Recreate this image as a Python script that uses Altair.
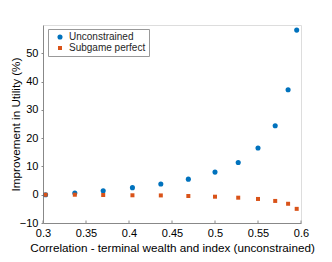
import altair as alt
import pandas as pd

# Data
corr = [0.303, 0.337, 0.370, 0.404, 0.437, 0.469, 0.500, 0.527, 0.550, 0.570, 0.585, 0.595]
unconstrained = [0.0, 0.6, 1.4, 2.5, 3.8, 5.5, 8.0, 11.4, 16.5, 24.4, 37.1, 58.2]
subgame = [0.0, 0.0, -0.1, -0.2, -0.25, -0.45, -0.7, -1.05, -1.5, -2.2, -3.2, -5.0]
series_names = ["Unconstrained", "Subgame perfect"]
series_colors = ["#0072BD", "#D95319"]
x_ticks = [0.3, 0.35, 0.4, 0.45, 0.5, 0.55, 0.6]
y_ticks = [-10, 0, 10, 20, 30, 40, 50]

rows = []
for i, s in enumerate(series_names):
    vals = unconstrained if i == 0 else subgame
    for xv, yv in zip(corr, vals):
        rows.append({"x": xv, "y": yv, "series": s, "order": i})
df = pd.DataFrame(rows)
ticks_df = pd.DataFrame({"x": x_ticks})

FONT = "Liberation Sans"
TXT = "#262626"
AX = "#8a8a8a"
W, H = 258, 198

xscale = alt.Scale(domain=[0.3, 0.6], nice=False, zero=False)
yscale = alt.Scale(domain=[-10, 60], nice=False, zero=False)

xaxis = alt.Axis(values=x_ticks, format="~g", tickSize=0, labelPadding=4,
                 grid=False, titleFontWeight="normal", labelFlush=False,
                 titleFontSize=11.7, labelFontSize=11,
                 titleY=28.5, titleBaseline="alphabetic")
yaxis = alt.Axis(values=y_ticks, tickSize=2, labelPadding=3,
                 grid=False, titleFontWeight="normal", labelFlush=False,
                 titleFontSize=11.7, labelFontSize=11,
                 titleX=-28, titleBaseline="middle")
XTITLE = "Correlation - terminal wealth and index (unconstrained)"
YTITLE = "Improvement in Utility (%)"

leg = dict(title=None, orient="none", legendX=5, legendY=4,
           padding=3, symbolOffset=4, labelOffset=4,
           rowPadding=1, symbolSize=7,
           strokeColor="#999999", fillColor="white",
           labelFont=FONT, labelFontSize=10, labelColor=TXT)

points = alt.Chart(df).mark_point(filled=True, opacity=1, strokeWidth=0).encode(
    x=alt.X("x:Q", scale=xscale, title=XTITLE, axis=xaxis),
    y=alt.Y("y:Q", scale=yscale, title=YTITLE, axis=yaxis),
    color=alt.Color("series:N",
                    scale=alt.Scale(domain=series_names, range=series_colors),
                    legend=alt.Legend(**leg)),
    shape=alt.Shape("series:N",
                    scale=alt.Scale(domain=series_names, range=["circle", "square"]),
                    legend=alt.Legend(**leg)),
    size=alt.Size("series:N",
                  scale=alt.Scale(domain=series_names, range=[26, 16]),
                  legend=None),
    order=alt.Order("order:Q"),
)

xticks = alt.Chart(ticks_df).mark_rule(color=AX, strokeWidth=1).encode(
    x=alt.X("x:Q", scale=xscale, title=XTITLE, axis=xaxis),
    y=alt.value(H),
    y2=alt.value(H - 2.5),
)

chart = alt.layer(points, xticks).properties(
    width=W, height=H,
    autosize=alt.AutoSizeParams(type="none"),
    padding={"left": 35, "top": 17, "right": 23, "bottom": 31},
).configure_view(stroke=None).configure_axis(
    domainColor=AX, tickColor=AX, labelColor=TXT, titleColor=TXT,
    labelFont=FONT, titleFont=FONT,
).configure(background="white")

chart.save("out.html", embed_options={"renderer": "svg", "actions": False})
